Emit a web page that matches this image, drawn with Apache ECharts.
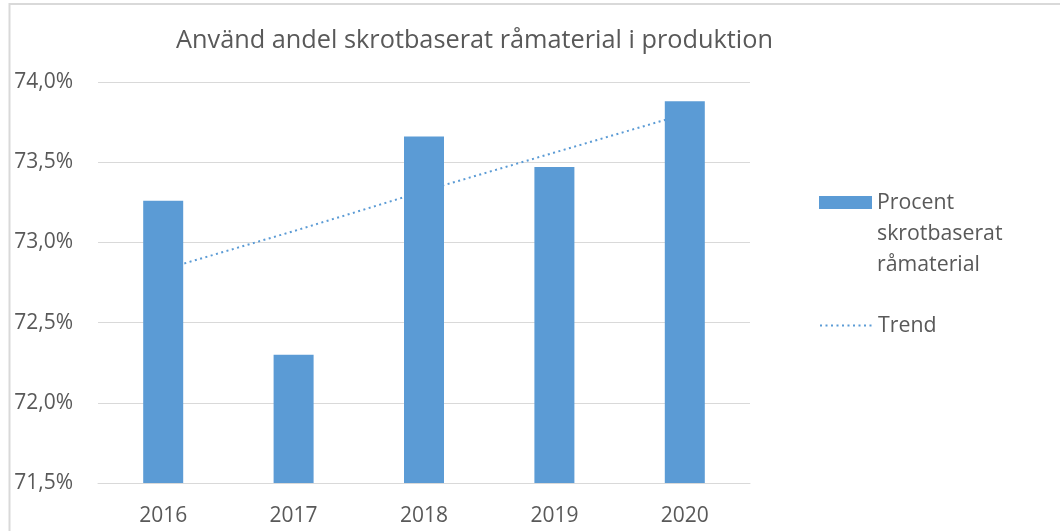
<!DOCTYPE html>
<html>
<head>
    <meta charset="utf-8">
    <title>Använd andel skrotbaserat råmaterial</title>
    <script src="https://cdn.jsdelivr.net/npm/echarts@6/dist/echarts.min.js"></script>
<style type="text/css">
    body,html { margin: 0; padding: 0; background: #fff; }
    #chart { width: 1060px; height: 531px; }
</style>
</head>
<body>
<div id="chart"></div>
<script>
    // data
    var years = ['2016', '2017', '2018', '2019', '2020'];
    var andel = [73.26, 72.30, 73.66, 73.47, 73.88];
    var trend = [72.83, 73.07, 73.32, 73.56, 73.80];
    var yTicks = { min: 71.5, max: 74.0, step: 0.5 };

    var textColor = '#595959';
    var blue = '#5b9bd5';
    var font = 'Open Sans';

    var chart = echarts.init(document.getElementById('chart'));

    var option = {
        backgroundColor: '#fff',
        animation: false,
        title: {
            text: 'Använd andel skrotbaserat råmaterial i produktion',
            left: 176,
            top: 28,
            padding: 0,
            textStyle: { color: textColor, fontFamily: font, fontSize: 25.3, fontWeight: 'normal' }
        },
        graphic: [{
            type: 'rect',
            shape: { x: 9.5, y: 4, width: 1100, height: 600 },
            style: { fill: null, stroke: '#d9d9d9', lineWidth: 2 },
            silent: true
        }],
        grid: { left: 98, right: 310, top: 82, bottom: 48 },
        legend: [{
            data: ['Procent skrotbaserat råmaterial'],
            orient: 'vertical',
            left: 819,
            top: 125,
            padding: 0,
            icon: 'rect',
            itemWidth: 53,
            itemHeight: 13,
            // two blank lines on top so the icon sits beside the first line
            formatter: function (name) { return '\n\n' + name.split(' ').join('\n'); },
            textStyle: { color: textColor, fontFamily: font, fontSize: 21.3, lineHeight: 31 }
        }, {
            data: ['Trend'],
            orient: 'vertical',
            left: 819,
            top: 310,
            padding: 0,
            itemWidth: 53,
            itemHeight: 13,
            itemStyle: { opacity: 0 },
            textStyle: { color: textColor, fontFamily: font, fontSize: 21.3, lineHeight: 31 }
        }],
        xAxis: {
            type: 'category',
            data: years,
            axisLine: { lineStyle: { color: '#d9d9d9', width: 1 } },
            axisTick: { show: false },
            axisLabel: { color: textColor, fontFamily: font, fontSize: 21, margin: 23 }
        },
        yAxis: {
            type: 'value',
            min: yTicks.min,
            max: yTicks.max,
            interval: yTicks.step,
            axisLine: { show: false },
            axisTick: { show: false },
            splitLine: { lineStyle: { color: '#d9d9d9', width: 1 } },
            axisLabel: {
                color: textColor, fontFamily: font, fontSize: 21, margin: 25,
                formatter: function (v) { return v.toFixed(1).replace('.', ',') + '%'; }
            }
        },
        series: [{
            name: 'Procent skrotbaserat råmaterial',
            type: 'bar',
            data: andel,
            barWidth: 40,
            z: 3,
            itemStyle: { color: blue }
        }, {
            name: 'Trend',
            type: 'line',
            data: trend,
            symbol: 'none',
            z: 1,
            lineStyle: { color: blue, width: 2, type: [2, 3.5] },
            itemStyle: { color: blue }
        }]
    };
    chart.setOption(option);
</script>
</body>
</html>
